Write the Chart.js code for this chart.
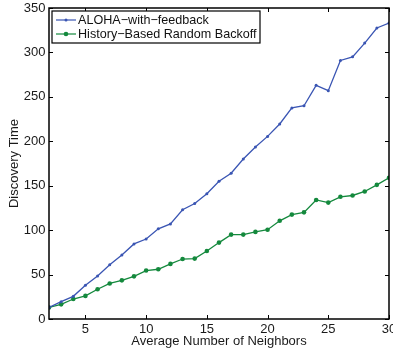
<!DOCTYPE html>
<html>
<head>
<meta charset="utf-8">
<script src="https://cdn.jsdelivr.net/npm/chart.js@4/dist/chart.umd.min.js"></script>
<style>
html,body{margin:0;padding:0;background:#fff;}
#wrap{position:relative;width:393px;height:349px;}
</style>
</head>
<body>
<div id="wrap"><canvas id="c" width="393" height="349"></canvas></div>
<script>
const neighbors = [2,3,4,5,6,7,8,9,10,11,12,13,14,15,16,17,18,19,20,21,22,23,24,25,26,27,28,29,30];
const alohaFeedback = [13,19.5,25.5,38,48.5,61,72,84.5,90,101.5,107,123,130,141,155,164,180,193.5,205.5,219.5,237.5,240,263,257,291,295,310.5,327.5,333];
const historyBackoff = [13,16.5,22.5,26,33.5,40,43.5,48,54.5,56,62,67.5,68,76.5,86,95,95,98,100.5,110.5,117.5,120,134,131,137.5,139,143.5,151,159];
const xTicks = [5,10,15,20,25,30];
const yTicks = [0,50,100,150,200,250,300,350];
const seriesNames = ['ALOHA\u2212with\u2212feedback','History\u2212Based Random Backoff'];
const FONT = '"Liberation Sans", Arial, sans-serif';

const boxPlugin = {
  id: 'boxPlugin',
  afterDraw(chart) {
    const ctx = chart.ctx, a = chart.chartArea;
    const xs = chart.scales.x, ys = chart.scales.y;
    ctx.save();
    ctx.strokeStyle = '#000';
    ctx.lineWidth = 1;
    const tl = 4;
    ctx.beginPath();
    xTicks.forEach(v => {
      const px = Math.round(xs.getPixelForValue(v)) + 0.5;
      ctx.moveTo(px, a.bottom); ctx.lineTo(px, a.bottom - tl);
      ctx.moveTo(px, a.top); ctx.lineTo(px, a.top + tl);
    });
    yTicks.forEach(v => {
      const py = Math.round(ys.getPixelForValue(v)) + 0.5;
      ctx.moveTo(a.left, py); ctx.lineTo(a.left + tl, py);
      ctx.moveTo(a.right, py); ctx.lineTo(a.right - tl, py);
    });
    ctx.stroke();
    ctx.lineWidth = 1.5;
    ctx.strokeRect(a.left, a.top, a.right - a.left, a.bottom - a.top);
    // legend
    const lx = a.left + 3, ly = a.top + 3, lw = 208, lh = 32;
    ctx.fillStyle = '#fff';
    ctx.fillRect(lx, ly, lw, lh);
    ctx.lineWidth = 1.2;
    ctx.strokeRect(lx, ly, lw, lh);
    ctx.font = '12.6px ' + FONT;
    ctx.textBaseline = 'middle';
    chart.data.datasets.forEach((ds, i) => {
      const yy = ly + 9 + i * 14;
      ctx.strokeStyle = ds.borderColor;
      ctx.lineWidth = 1.2;
      ctx.beginPath(); ctx.moveTo(lx + 4, yy); ctx.lineTo(lx + 24, yy); ctx.stroke();
      ctx.fillStyle = ds.borderColor;
      ctx.beginPath(); ctx.arc(lx + 14, yy, ds.pointRadius, 0, Math.PI * 2); ctx.fill();
      ctx.fillStyle = '#111';
      ctx.fillText(ds.label, lx + 26, yy + 0.5);
    });
    ctx.restore();
  }
};

new Chart(document.getElementById('c'), {
  type: 'line',
  data: {
    datasets: [
      { label: seriesNames[0], data: neighbors.map((x,i)=>({x, y: alohaFeedback[i]})),
        borderColor: '#3a55b3', backgroundColor: '#3a55b3', borderWidth: 1.3,
        pointRadius: 1.5, pointBackgroundColor: '#3a55b3', pointBorderWidth: 0, tension: 0 },
      { label: seriesNames[1], data: neighbors.map((x,i)=>({x, y: historyBackoff[i]})),
        borderColor: '#14893d', backgroundColor: '#14893d', borderWidth: 1.3,
        pointRadius: 2.3, pointBackgroundColor: '#14893d', pointBorderWidth: 0, tension: 0 }
    ]
  },
  options: {
    responsive: false,
    animation: false,
    layout: { padding: { left: 0, right: 4, top: 8, bottom: 0 } },
    plugins: { legend: { display: false }, tooltip: { enabled: false } },
    scales: {
      x: {
        type: 'linear', min: 2, max: 30,
        afterBuildTicks: s => { s.ticks = xTicks.map(v => ({ value: v })); },
        afterFit: s => { s.height = 30; s.paddingLeft = 0; s.paddingRight = 0; },
        grid: { display: false, drawTicks: false },
        border: { display: false },
        ticks: { color: '#1a1a1a', font: { family: FONT, size: 13 }, padding: 3, maxRotation: 0 },
        title: { display: true, text: 'Average Number of Neighbors', color: '#1a1a1a',
                 font: { family: FONT, size: 13 }, padding: { top: 0, bottom: 0 } }
      },
      y: {
        type: 'linear', min: 0, max: 350,
        afterBuildTicks: s => { s.ticks = yTicks.map(v => ({ value: v })); },
        afterFit: s => { s.width = 49; s.paddingTop = 0; s.paddingBottom = 0; },
        grid: { display: false, drawTicks: false },
        border: { display: false },
        ticks: { color: '#1a1a1a', font: { family: FONT, size: 13 }, padding: 3.5 },
        title: { display: true, text: 'Discovery Time', color: '#1a1a1a',
                 font: { family: FONT, size: 13 }, padding: { top: 7, bottom: 0 } }
      }
    }
  },
  plugins: [boxPlugin]
});
</script>
</body>
</html>
